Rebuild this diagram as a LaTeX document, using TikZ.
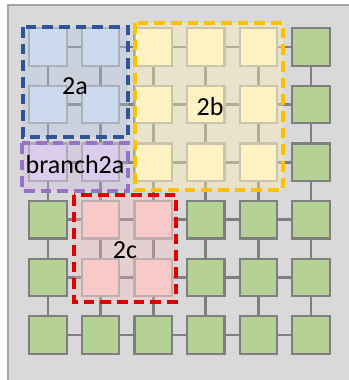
\documentclass[tikz,border=0pt]{standalone}
\usepackage{fontspec}
\setmainfont{Carlito}
\begin{document}
\begin{tikzpicture}[x=0.75pt,y=-0.75pt,
  cell/.style={draw=#1, line width=1.7pt, minimum size=28pt, inner sep=0pt, outer sep=0pt},
  link/.style={draw=linkgray, line width=2.2pt},
  grp/.style={draw=#1, line width=2.8pt, dash pattern=on 8pt off 4.5pt},
  lab/.style={font=\fontsize{19.5}{20}\selectfont, inner sep=0pt}]
\definecolor{bg}{HTML}{D9D9D9}
\definecolor{framegray}{HTML}{A6A6A6}
\definecolor{linkgray}{HTML}{7F7F7F}
\definecolor{greenfill}{HTML}{B5D196}
\definecolor{bluefill}{HTML}{DAE3F3}
\definecolor{yellowfill}{HTML}{FFF2CC}
\definecolor{purplefill}{HTML}{E2D6F0}
\definecolor{pinkfill}{HTML}{F6CFCF}
\definecolor{blueov}{HTML}{B4C7E7}
\definecolor{yellowov}{HTML}{FFF2B4}
\definecolor{purpleov}{HTML}{CCB4E6}
\definecolor{pinkov}{HTML}{FFBEBE}
\definecolor{bluedash}{HTML}{2F5597}
\definecolor{yellowdash}{HTML}{FFC000}
\definecolor{purpledash}{HTML}{9673C8}
\definecolor{reddash}{HTML}{E00000}
\useasboundingbox (0,0) rectangle (349,380);
\fill[white] (0,0) rectangle (349,380);
\fill[bg] (8,5) rectangle (352,383);
\draw[framegray, line width=1.2pt] (8,383) -- (8,5) -- (352,5);
% grid cells
\foreach \r/\y in {0/47,1/104.6,2/162.2,3/219.8,4/277.4,5/335}{
  \foreach \c/\x in {0/48,1/100.6,2/153.2,3/205.8,4/258.4,5/311}{
    \coordinate (p-\r-\c) at (\x,\y);
  }
}
% links
\foreach \r in {0,...,5}{
  \foreach \c [count=\n from 1] in {0,...,4}{
    \draw[link] (p-\r-\c) -- (p-\r-\n);
  }
}
\foreach \c in {0,...,5}{
  \foreach \r [count=\n from 1] in {0,...,4}{
    \draw[link] (p-\r-\c) -- (p-\n-\c);
  }
}
% cells
\foreach \r in {0,...,5}{
  \foreach \c in {0,...,5}{
    \pgfmathtruncatemacro{\k}{
      (\r<2 && \c<2) ? 1 : ((\r<3 && \c>1 && \c<5) ? 2 : ((\r==2 && \c<2) ? 3 : ((\r>2 && \r<5 && \c>0 && \c<3) ? 4 : 0)))}
    \ifcase\k
      \node[cell=linkgray, fill=greenfill] (s-\r-\c) at (p-\r-\c) {};
    \or
      \node[cell=framegray, fill=bluefill] (s-\r-\c) at (p-\r-\c) {};
    \or
      \node[cell=framegray, fill=yellowfill] (s-\r-\c) at (p-\r-\c) {};
    \or
      \node[cell=framegray, fill=purplefill] (s-\r-\c) at (p-\r-\c) {};
    \or
      \node[cell=framegray, fill=pinkfill] (s-\r-\c) at (p-\r-\c) {};
    \fi
  }
}
% group overlays
\fill[blueov, opacity=0.35] (23,27) rectangle (128,137);
\fill[yellowov, opacity=0.4] (135,23) rectangle (283,190);
\fill[purpleov, opacity=0.3] (22,143) rectangle (128,191);
\fill[pinkov, opacity=0.3] (74,195) rectangle (176,302);
\draw[grp=bluedash] (23,27) rectangle (128,137);
\draw[grp=yellowdash] (135,23) rectangle (283,190);
\draw[grp=purpledash] (22,143) rectangle (128,191);
\draw[grp=reddash] (74,195) rectangle (176,302);
\node[lab] (l2a) at (75,86) {2a};
\node[lab] (l2b) at (210,107) {2b};
\node[lab] (lbr) at (75,165) {branch2a};
\node[lab] (l2c) at (125,250) {2c};
\end{tikzpicture}
\end{document}
